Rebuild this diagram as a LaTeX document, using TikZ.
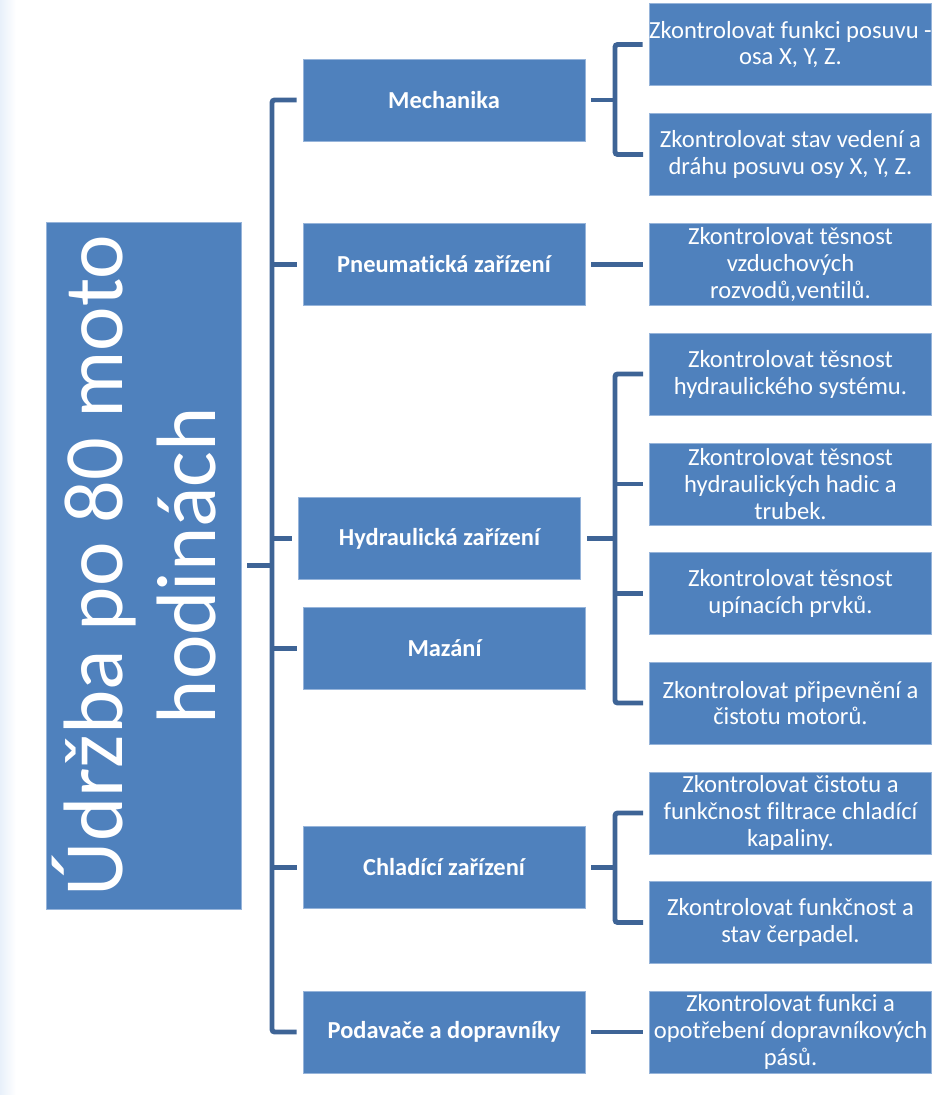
\documentclass[tikz,border=0pt]{standalone}
\usepackage{fontspec}
\setmainfont{Carlito}[Ligatures=NoCommon]
\usetikzlibrary{calc}
\definecolor{boxblue}{RGB}{79,129,189}
\definecolor{boxedge}{RGB}{150,180,218}
\definecolor{linkblue}{RGB}{62,100,150}
\definecolor{haze}{RGB}{232,240,250}

\begin{document}
\begin{tikzpicture}[
  x=0.02cm, y=-0.02cm,
  box/.style={
    draw=boxedge, fill=boxblue, line width=0.5pt,
    minimum width=5.64cm, minimum height=1.64cm, inner sep=0pt,
    text=white, align=center, font=\fontsize{14}{15.3}\selectfont
  },
  group/.style={box, font=\fontsize{13.9}{15}\selectfont\bfseries},
  rootbox/.style={box, minimum width=3.9cm, minimum height=13.74cm},
  roottext/.style={
    inner sep=0pt, text=white, align=center,
    font=\fontsize{48}{52.7}\selectfont
  },
  link/.style={draw=linkblue, line width=2.8pt, rounded corners=1.5pt},
  linkboth/.style={link, shorten <=1.2mm, shorten >=1.2mm},
  linkin/.style={link, shorten >=1.2mm},
  linkout/.style={link, shorten <=1.2mm}
]
\useasboundingbox (0,0) rectangle (937,1095);
\shade[left color=haze, right color=white] (0,0) rectangle (16,1095);

% Root box with the rotated title.
\node[rootbox] (root) at (143.5,565.5) {};
\node[roottext, rotate=90] (title) at ([xshift=-1.9mm]root.center)
  {Údržba po 80 moto\\hodinách};

% Group column.
\node[group] (mech)  at (444,100)    {Mechanika};
\node[group] (pneu)  at (444,264.5)  {Pneumatická zařízení};
\node[group] (hydr)  at (439.5,538.5) {Hydraulická zařízení};
\node[group] (maz)   at (444.5,648.5) {Mazání};
\node[group] (chlad) at (444,867.5)  {Chladící zařízení};
\node[group] (podav) at (444,1032)   {Podavače a dopravníky};

% Check items.
\node[box] (mech1)  at (790.5,44.5)  {Zkontrolovat funkci posuvu -\\osa X, Y, Z.};
\node[box] (mech2)  at (790.5,154.5) {Zkontrolovat stav vedení a\\dráhu posuvu osy X, Y, Z.};
\node[box] (pneu1)  at (790.5,264.5) {Zkontrolovat těsnost\\vzduchových\\rozvodů,ventilů.};
\node[box] (hydr1)  at (790.5,374)   {Zkontrolovat těsnost\\hydraulického systému.};
\node[box] (hydr2)  at (790.5,484)   {Zkontrolovat těsnost\\hydraulických hadic a\\trubek.};
\node[box] (hydr3)  at (790.5,593.5) {Zkontrolovat těsnost\\upínacích prvků.};
\node[box] (hydr4)  at (790.5,703)   {Zkontrolovat připevnění a\\čistotu motorů.};
\node[box] (chlad1) at (790.5,813)   {Zkontrolovat čistotu a\\funkčnost filtrace chladící\\kapaliny.};
\node[box] (chlad2) at (790.5,922.5) {Zkontrolovat funkčnost a\\stav čerpadel.};
\node[box] (podav1) at (790.5,1032)  {Zkontrolovat funkci a\\opotřebení dopravníkových\\pásů.};

% Fork points of the brackets.
\coordinate (rootfork)  at (272,565.5);
\coordinate (mechfork)  at (615,100);
\coordinate (hydrfork)  at (615,538.5);
\coordinate (chladfork) at (615,867.5);

% Root bracket.
\draw[linkout] (root.east) -- (rootfork);
\draw[linkboth] (mech.west) -| (rootfork) |- (podav.west);
\draw[linkin] (rootfork |- pneu.west) -- (pneu.west);
\draw[linkin] (rootfork |- hydr.west) -- (hydr.west);
\draw[linkin] (rootfork |- maz.west) -- (maz.west);
\draw[linkin] (rootfork |- chlad.west) -- (chlad.west);

% Group brackets.
\draw[linkout] (mech.east) -- (mechfork);
\draw[linkboth] (mech1.west) -| (mechfork) |- (mech2.west);
\draw[linkboth] (pneu.east) -- (pneu1.west);
\draw[linkout] (hydr.east) -- (hydrfork);
\draw[linkboth] (hydr1.west) -| (hydrfork) |- (hydr4.west);
\draw[linkin] (hydrfork |- hydr2.west) -- (hydr2.west);
\draw[linkin] (hydrfork |- hydr3.west) -- (hydr3.west);
\draw[linkout] (chlad.east) -- (chladfork);
\draw[linkboth] (chlad1.west) -| (chladfork) |- (chlad2.west);
\draw[linkboth] (podav.east) -- (podav1.west);

\end{tikzpicture}
\end{document}
